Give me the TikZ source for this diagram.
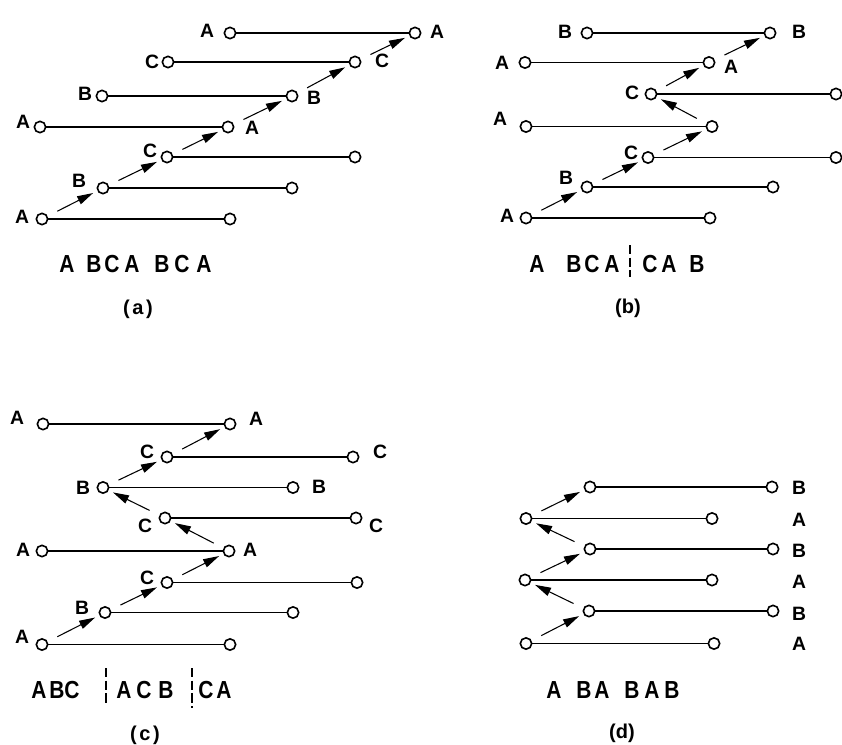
\documentclass[tikz,border=0pt]{standalone}
\usepackage{fontspec}
\setmainfont{Liberation Sans}
\newfontfamily\seqfont[FakeStretch=0.85]{Liberation Sans}
\usetikzlibrary{arrows.meta}
\tikzset{
  term/.style={circle,draw,fill=white,line width=1.2pt,minimum size=8.5pt,inner sep=0pt},
  wire/.style={line width=1.15pt},
  jump/.style={line width=0.8pt,-{Triangle[length=12pt,width=6.5pt]},shorten <=8pt,shorten >=3.5pt},
  lbl/.style={inner sep=0pt,font=\bfseries\fontsize{14.5pt}{16pt}\selectfont},
  seq/.style={inner sep=0pt,anchor=base west,font=\seqfont\bfseries\fontsize{18.5pt}{20pt}\selectfont},
  paneltitle/.style={inner sep=0pt,font=\bfseries\fontsize{15pt}{17pt}\selectfont},
  divider/.style={line width=1.8pt,dash pattern=on 7pt off 2.5pt}
}
\begin{document}
\begin{tikzpicture}[x=0.75pt,y=-0.75pt]
\useasboundingbox (0,0) rectangle (842,744);

% ---------- (a): stacked rows, every jump forward ----------
\foreach \n/\xl/\xr/\y in {1/42/230/219, 2/103/292/188, 3/167/355/157,
    4/40/228/127, 5/102/292/96, 6/168/355/62, 7/230/415/33}{
  \node[term] (a-\n-l) at (\xl,\y) {};
  \node[term] (a-\n-r) at (\xr,\y) {};
  \draw[wire] (a-\n-l) -- (a-\n-r);
}
\foreach \t/\xx/\yy [count=\k] in {A/22/217, B/79/181, C/150/151, A/23/122,
    B/85/94, C/152/62, A/207/31, A/252/128, B/314/98, C/382/61, A/437/32}
  \node[lbl] (la-\k) at (\xx,\yy) {\t};
\draw[jump] (a-1-l) -- (a-2-l);
\draw[jump] (a-2-l) -- (a-3-l);
\draw[jump] (a-3-l) -- (a-4-r);
\draw[jump] (a-4-r) -- (a-5-r);
\draw[jump] (a-5-r) -- (a-6-r);
\draw[jump] (a-6-r) -- (a-7-r);
\foreach \ch/\xx [count=\k] in {A/59, B/86, C/104, A/124, B/154, C/174, A/196}
  \node[seq] (sa-\k) at (\xx,272) {\ch};
\node[paneltitle] (capa) at (138,309) {(\hspace{2pt}a\hspace{2pt})};

% ---------- (b): one step back ----------
\foreach \n/\xl/\xr/\y in {1/526/710/218, 2/587/773/187, 3/648/836/157.5,
    4/526/712/126.5, 5/651/836/94, 6/525/709/62.5, 7/587/770/33}{
  \node[term] (b-\n-l) at (\xl,\y) {};
  \node[term] (b-\n-r) at (\xr,\y) {};
  \draw[wire] (b-\n-l) -- (b-\n-r);
}
\foreach \t/\xx/\yy [count=\k] in {A/507/216, B/566/178, C/631/153, A/500/119,
    C/632/93, A/502/63, B/565/32, A/731/67, B/799/32}
  \node[lbl] (lb-\k) at (\xx,\yy) {\t};
\draw[jump] (b-1-l) -- (b-2-l);
\draw[jump] (b-2-l) -- (b-3-l);
\draw[jump] (b-3-l) -- (b-4-r);
\draw[jump] (b-4-r) -- (b-5-l);
\draw[jump] (b-5-l) -- (b-6-r);
\draw[jump] (b-6-r) -- (b-7-r);
\foreach \ch/\xx [count=\k] in {A/529, B/566, C/584, A/604, C/642, A/661, B/689}
  \node[seq] (sb-\k) at (\xx,272) {\ch};
\coordinate (db-t) at (630,245);
\coordinate (db-b) at (630,277);
\draw[divider] (db-t) -- (db-b);
\node[paneltitle] (capb) at (628,308) {(b)};

% ---------- (c): two steps back ----------
\foreach \n/\xl/\xr/\y in {1/42/230/644.5, 2/105/293/612.5, 3/167/357/582.5,
    4/42/229/551, 5/165/356/518, 6/103/293/487.5, 7/167/353/457, 8/43/230/424}{
  \node[term] (c-\n-l) at (\xl,\y) {};
  \node[term] (c-\n-r) at (\xr,\y) {};
  \draw[wire] (c-\n-l) -- (c-\n-r);
}
\foreach \t/\xx/\yy [count=\k] in {A/22/637, B/82/608, C/147/578, A/23/550,
    C/145/526, B/83/488, C/147/452, A/17/418,
    A/250/550, C/376/526, B/319/487, C/380/452, A/256/419}
  \node[lbl] (lc-\k) at (\xx,\yy) {\t};
\draw[jump] (c-1-l) -- (c-2-l);
\draw[jump] (c-2-l) -- (c-3-l);
\draw[jump] (c-3-l) -- (c-4-r);
\draw[jump] (c-4-r) -- (c-5-l);
\draw[jump] (c-5-l) -- (c-6-l);
\draw[jump] (c-6-l) -- (c-7-l);
\draw[jump] (c-7-l) -- (c-8-r);
\foreach \ch/\xx [count=\k] in {A/31, B/49, C/64, A/116, C/136, B/158, C/198, A/216}
  \node[seq] (sc-\k) at (\xx,698) {\ch};
\coordinate (dc1-t) at (106,668);
\coordinate (dc1-b) at (106,705);
\coordinate (dc2-t) at (192,668);
\coordinate (dc2-b) at (192,708);
\draw[divider] (dc1-t) -- (dc1-b);
\draw[divider] (dc2-t) -- (dc2-b);
\node[paneltitle] (capc) at (145,735) {(\hspace{2pt}c\hspace{2pt})};

% ---------- (d): zig-zag between two columns ----------
\foreach \n/\xl/\xr/\y in {1/526/714/643.5, 2/589/773/611, 3/525/712/580,
    4/590/773/549, 5/526/712/518.5, 6/590/772/487}{
  \node[term] (d-\n-l) at (\xl,\y) {};
  \node[term] (d-\n-r) at (\xr,\y) {};
  \draw[wire] (d-\n-l) -- (d-\n-r);
}
\foreach \t/\yy [count=\k] in {A/644, B/614, A/582, B/551, A/520, B/488}
  \node[lbl] (ld-\k) at (799,\yy) {\t};
\draw[jump] (d-1-l) -- (d-2-l);
\draw[jump] (d-2-l) -- (d-3-l);
\draw[jump] (d-3-l) -- (d-4-l);
\draw[jump] (d-4-l) -- (d-5-l);
\draw[jump] (d-5-l) -- (d-6-l);
\foreach \ch/\xx [count=\k] in {A/546, B/576, A/594, B/624, A/644, B/664}
  \node[seq] (sd-\k) at (\xx,698) {\ch};
\node[paneltitle] (capd) at (622,733) {(d)};
\end{tikzpicture}
\end{document}
